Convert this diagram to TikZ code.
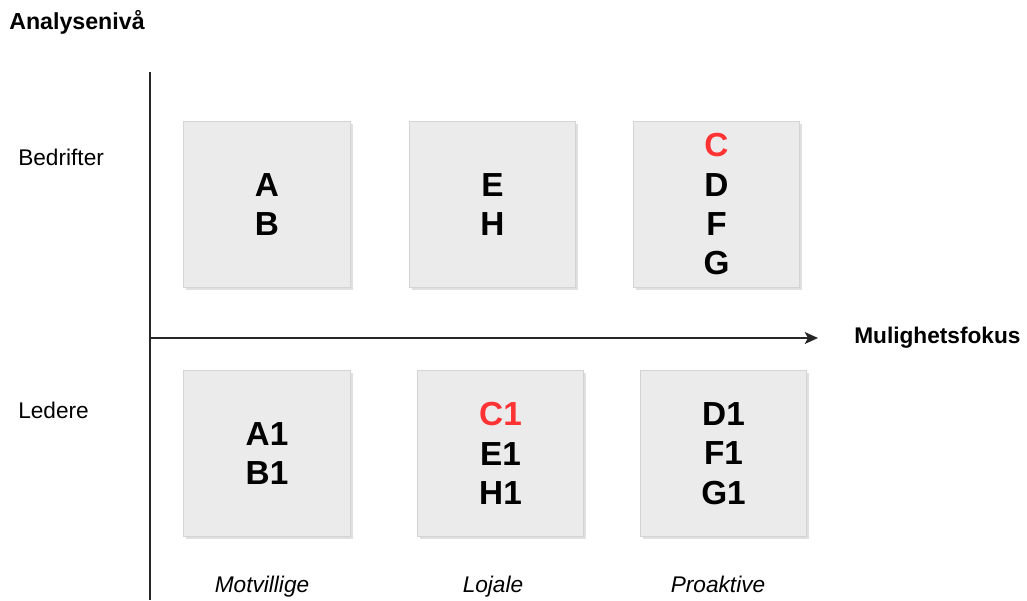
\documentclass[tikz,border=0pt]{standalone}
\usepackage{fontspec}
\setmainfont{Liberation Sans}
\usepackage{tikz}
\usetikzlibrary{arrows.meta,shadows}

\tikzset{
    felt/.style={rectangle,draw=col_kant,fill=col_felt,line width=0.75pt,minimum width=125pt,minimum height=125pt,inner sep=0pt,align=center,font=\fontsize{25}{29.5}\selectfont\bfseries,drop shadow={shadow xshift=1.8pt,shadow yshift=-1.8pt,fill=black!12,opacity=1}},
    etikett/.style={font=\fontsize{17}{20}\selectfont,inner sep=0pt},
    akse/.style={line width=1pt,draw=black!85}
}

\begin{document}
\begin{tikzpicture}[x=0.75pt,y=-0.75pt]
    \definecolor{col_felt}{HTML}{EBEBEB} % fill of the boxes
    \definecolor{col_kant}{HTML}{D4D4D4} % border of the boxes
    \definecolor{col_rod}{HTML}{FF3333}  % marked firms
    \useasboundingbox (0,0) rectangle (1027,600);
    % axes
    \coordinate (origo) at (150,338);
    \coordinate (topp) at (150,72);
    \coordinate (bunn) at (150,600);
    \coordinate (hoyre) at (818,338);
    \draw[akse] (topp)--(bunn);
    \draw[akse,-{Stealth[length=10pt,width=9pt,inset=2.5pt]}] (origo)--(hoyre);
    \node[etikett,font=\fontsize{17.4}{20}\selectfont\bfseries,anchor=west] (nivaa) at (9,22) {Analysenivå};
    \node[etikett,font=\fontsize{17}{20}\selectfont\bfseries,anchor=west] (fokus) at (854,338) {Mulighetsfokus};
    \node[etikett,anchor=west] (bedrifter) at (18,157) {Bedrifter};
    \node[etikett,anchor=west] (ledere) at (18,410) {Ledere};
    % boxes
    \node[felt] (motbed) at (267,204.5) {A\\B};
    \node[felt] (lojbed) at (492.5,204.5) {E\\H};
    \node[felt] (probed) at (716.5,204.5) {\textcolor{col_rod}{C}\\D\\F\\G};
    \node[felt] (motled) at (267,453.5) {A1\\B1};
    \node[felt] (lojled) at (500.5,453.5) {\textcolor{col_rod}{C1}\\E1\\H1};
    \node[felt] (proled) at (723.5,453.5) {D1\\F1\\G1};
    % groups
    \node[etikett,font=\fontsize{17}{20}\selectfont\itshape,anchor=base] (motvillige) at (262,592) {Motvillige};
    \node[etikett,font=\fontsize{17}{20}\selectfont\itshape,anchor=base] (lojale) at (493,592) {Lojale};
    \node[etikett,font=\fontsize{17}{20}\selectfont\itshape,anchor=base] (proaktive) at (718,592) {Proaktive};
\end{tikzpicture}
\end{document}
